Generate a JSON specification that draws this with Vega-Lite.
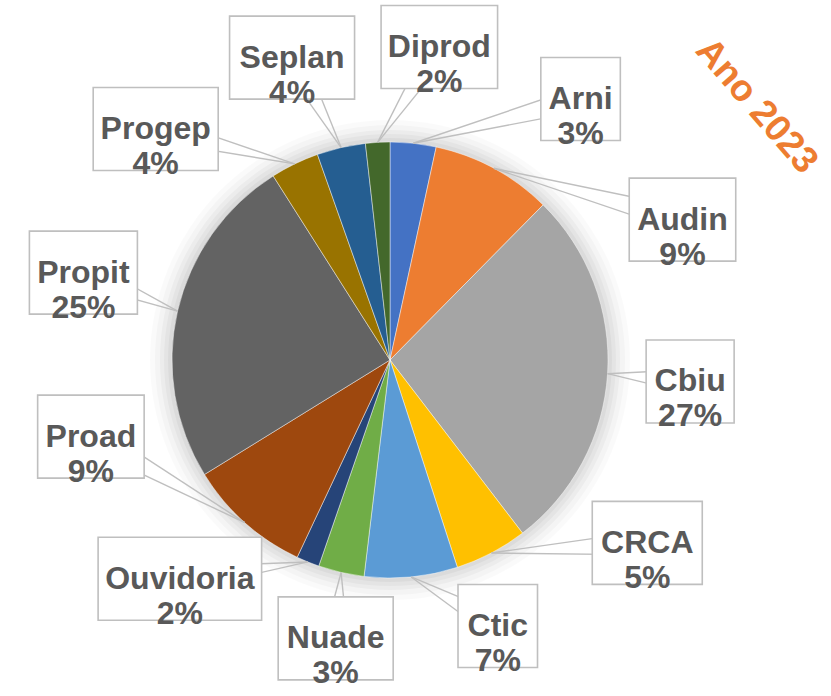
{
  "$schema": "https://vega.github.io/schema/vega-lite/v6.json",
  "width": 780,
  "height": 672,
  "autosize": "none",
  "padding": {"left": 0, "top": 24, "right": 51, "bottom": 0},
  "background": "white",
  "config": {"view": {"stroke": null}},
  "title": {
    "text": "Ano 2023",
    "color": "#ED7D31",
    "fontSize": 37,
    "fontWeight": "bold",
    "font": "Liberation Sans",
    "angle": 49,
    "orient": "none",
    "anchor": "start",
    "align": "left",
    "baseline": "alphabetic",
    "frame": "group",
    "dx": 476,
    "dy": -506
  },
  "data": {
    "values": [
      {"name": "Arni", "value": 3.4},
      {"name": "Audin", "value": 9.0},
      {"name": "Cbiu", "value": 27.2},
      {"name": "CRCA", "value": 5.4},
      {"name": "Ctic", "value": 6.9},
      {"name": "Nuade", "value": 3.4},
      {"name": "Ouvidoria", "value": 1.7},
      {"name": "Proad", "value": 9.2},
      {"name": "Propit", "value": 24.8},
      {"name": "Progep", "value": 3.6},
      {"name": "Seplan", "value": 3.6},
      {"name": "Diprod", "value": 1.8}
    ]
  },
  "transform": [
    {"window": [{"op": "row_number", "as": "i"}]},
    {"joinaggregate": [{"op": "sum", "field": "value", "as": "total"}, {"op": "count", "as": "n"}]},
    {"window": [{"op": "sum", "field": "value", "as": "cum"}], "sort": [{"field": "i"}], "frame": [null, 0]},
    {"calculate": "(datum.cum - datum.value/2)/datum.total*2*PI", "as": "mid"},
    {"calculate": "(datum.i-1)*360/datum.n + 40", "as": "u"},
    {"calculate": "(datum.u - 6*sin(datum.u*PI/180))*PI/180", "as": "la"},
    {"calculate": "390 + 218*sin(datum.mid)", "as": "px"},
    {"calculate": "336 - 218*cos(datum.mid)", "as": "py"},
    {"calculate": "length(replace(datum.name, regexp('[^A-Z]', 'g'), ''))", "as": "nCaps"},
    {"calculate": "length(replace(datum.name, regexp('[^iltrfj]', 'g'), ''))", "as": "nNarrow"},
    {"calculate": "(23*datum.nCaps + 10*datum.nNarrow + 18.5*(length(datum.name) - datum.nCaps - datum.nNarrow) + 18)/2", "as": "hw"},
    {"calculate": "258 + 17*cos(datum.la) + min(datum.hw/(abs(sin(datum.la))+0.000001), 41.5/(abs(cos(datum.la))+0.000001))", "as": "d"},
    {"calculate": "390 + datum.d*sin(datum.la)", "as": "lx"},
    {"calculate": "336 - datum.d*cos(datum.la)", "as": "ly"},
    {"calculate": "datum.lx - datum.hw", "as": "bx1"},
    {"calculate": "datum.lx + datum.hw", "as": "bx2"},
    {"calculate": "datum.ly - 41.5", "as": "by1"},
    {"calculate": "datum.ly + 41.5", "as": "by2"},
    {"calculate": "sqrt(pow(datum.lx-datum.px,2)+pow(datum.ly-datum.py,2))", "as": "len"},
    {"calculate": "datum.lx - 12*(datum.ly-datum.py)/datum.len", "as": "wx1"},
    {"calculate": "datum.ly + 12*(datum.lx-datum.px)/datum.len", "as": "wy1"},
    {"calculate": "datum.lx + 12*(datum.ly-datum.py)/datum.len", "as": "wx2"},
    {"calculate": "datum.ly - 12*(datum.lx-datum.px)/datum.len", "as": "wy2"},
    {"calculate": "[datum.name, format(datum.value/datum.total, '.0%')]", "as": "label"}
  ],
  "layer": [
    {"data": {"values": [{}]}, "mark": {"type": "arc", "theta": 0, "theta2": 6.2832, "outerRadius": 240, "fill": "#000000", "fillOpacity": 0.02}, "encoding": {}},
    {"data": {"values": [{}]}, "mark": {"type": "arc", "theta": 0, "theta2": 6.2832, "outerRadius": 235, "fill": "#000000", "fillOpacity": 0.025}, "encoding": {}},
    {"data": {"values": [{}]}, "mark": {"type": "arc", "theta": 0, "theta2": 6.2832, "outerRadius": 230, "fill": "#000000", "fillOpacity": 0.03}, "encoding": {}},
    {"data": {"values": [{}]}, "mark": {"type": "arc", "theta": 0, "theta2": 6.2832, "outerRadius": 226, "fill": "#000000", "fillOpacity": 0.03}, "encoding": {}},
    {"data": {"values": [{}]}, "mark": {"type": "arc", "theta": 0, "theta2": 6.2832, "outerRadius": 222, "fill": "#000000", "fillOpacity": 0.035}, "encoding": {}},
    {
      "mark": {"type": "arc", "outerRadius": 218, "stroke": "#ffffff", "strokeWidth": 0.75, "strokeOpacity": 0.6},
      "encoding": {
        "theta": {"field": "value", "type": "quantitative", "stack": true},
        "order": {"field": "i", "type": "quantitative"},
        "color": {
          "field": "name",
          "type": "nominal",
          "legend": null,
          "scale": {
            "domain": ["Arni", "Audin", "Cbiu", "CRCA", "Ctic", "Nuade", "Ouvidoria", "Proad", "Propit", "Progep", "Seplan", "Diprod"],
            "range": ["#4472C4", "#ED7D31", "#A5A5A5", "#FFC000", "#5B9BD5", "#70AD47", "#264478", "#9E480E", "#636363", "#997300", "#255E91", "#43682B"]
          }
        }
      }
    },
    {
      "mark": {"type": "rule", "stroke": "#bfbfbf", "strokeWidth": 1.4},
      "encoding": {
        "x": {"field": "px", "type": "quantitative", "scale": null},
        "y": {"field": "py", "type": "quantitative", "scale": null},
        "x2": {"field": "wx1"},
        "y2": {"field": "wy1"}
      }
    },
    {
      "mark": {"type": "rule", "stroke": "#bfbfbf", "strokeWidth": 1.4},
      "encoding": {
        "x": {"field": "px", "type": "quantitative", "scale": null},
        "y": {"field": "py", "type": "quantitative", "scale": null},
        "x2": {"field": "wx2"},
        "y2": {"field": "wy2"}
      }
    },
    {
      "mark": {"type": "rect", "fill": "#ffffff", "stroke": "#bfbfbf", "strokeWidth": 1.6},
      "encoding": {
        "x": {"field": "bx1", "type": "quantitative", "scale": null},
        "x2": {"field": "bx2"},
        "y": {"field": "by1", "type": "quantitative", "scale": null},
        "y2": {"field": "by2"}
      }
    },
    {
      "mark": {"type": "text", "font": "Liberation Sans", "fontWeight": "bold", "fontSize": 32, "lineHeight": 35, "color": "#595959", "align": "center", "baseline": "middle"},
      "encoding": {
        "x": {"field": "lx", "type": "quantitative", "scale": null},
        "y": {"field": "ly", "type": "quantitative", "scale": null},
        "text": {"field": "label"}
      }
    }
  ]
}
